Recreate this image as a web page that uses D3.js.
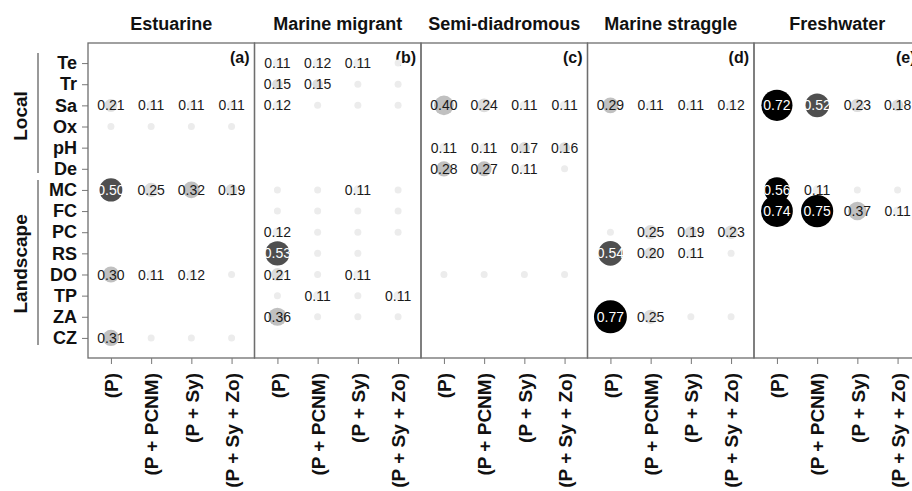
<!DOCTYPE html>
<html>
<head>
<meta charset="utf-8">
<script src="https://cdn.jsdelivr.net/npm/d3@7"></script>
<style>
  body { margin: 0; background: #fff; }
  svg { font-family: "Liberation Sans", Arial, sans-serif; }
  .axis text { font-weight: bold; fill: #111; }
  .axis line { stroke: #777; }
</style>
</head>
<body>
<div id="chart"></div>
<script>
// panels, columns and rows
var groups = ["Estuarine", "Marine migrant", "Semi-diadromous", "Marine straggle", "Freshwater"];
var panelTags = ["(a)", "(b)", "(c)", "(d)", "(e)"];
var models = ["(P)", "(P + PCNM)", "(P + Sy)", "(P + Sy + Zo)"];
var predictors = ["Te", "Tr", "Sa", "Ox", "pH", "De", "MC", "FC", "PC", "RS", "DO", "TP", "ZA", "CZ"];
var localVars = ["Te", "Tr", "Sa", "Ox", "pH", "De"];
var landscapeVars = ["MC", "FC", "PC", "RS", "DO", "TP", "ZA", "CZ"];

// values per panel, one row per predictor; null = nothing drawn, 0.05 = small unlabelled dot
var estuarine = [
  [null, null, null, null],
  [null, null, null, null],
  [0.21, 0.11, 0.11, 0.11],
  [0.05, 0.05, 0.05, 0.05],
  [null, null, null, null],
  [null, null, null, null],
  [0.50, 0.25, 0.32, 0.19],
  [null, null, null, null],
  [null, null, null, null],
  [null, null, null, null],
  [0.30, 0.11, 0.12, 0.05],
  [null, null, null, null],
  [null, null, null, null],
  [0.31, 0.05, 0.05, 0.05]
];
var marineMigrant = [
  [0.11, 0.12, 0.11, 0.05],
  [0.15, 0.15, 0.05, 0.05],
  [0.12, 0.05, 0.05, 0.05],
  [null, null, null, null],
  [null, null, null, null],
  [null, null, null, null],
  [0.05, 0.05, 0.11, 0.05],
  [0.05, 0.05, 0.05, 0.05],
  [0.12, 0.05, 0.05, 0.05],
  [0.53, 0.05, 0.05, null],
  [0.21, 0.05, 0.11, null],
  [0.05, 0.11, 0.05, 0.11],
  [0.36, 0.05, 0.05, 0.05],
  [null, null, null, null]
];
var semiDiadromous = [
  [null, null, null, null],
  [null, null, null, null],
  [0.40, 0.24, 0.11, 0.11],
  [null, null, null, null],
  [0.11, 0.11, 0.17, 0.16],
  [0.28, 0.27, 0.11, 0.05],
  [null, null, null, null],
  [null, null, null, null],
  [null, null, null, null],
  [null, null, null, null],
  [0.05, 0.05, 0.05, 0.05],
  [null, null, null, null],
  [null, null, null, null],
  [null, null, null, null]
];
var marineStraggle = [
  [null, null, null, null],
  [null, null, null, null],
  [0.29, 0.11, 0.11, 0.12],
  [null, null, null, null],
  [null, null, null, null],
  [null, null, null, null],
  [null, null, null, null],
  [null, null, null, null],
  [0.05, 0.25, 0.19, 0.23],
  [0.54, 0.20, 0.11, 0.05],
  [null, null, null, null],
  [null, null, null, null],
  [0.77, 0.25, 0.05, 0.05],
  [null, null, null, null]
];
var freshwater = [
  [null, null, null, null],
  [null, null, null, null],
  [0.72, 0.52, 0.23, 0.18],
  [null, null, null, null],
  [null, null, null, null],
  [null, null, null, null],
  [0.56, 0.11, 0.05, 0.05],
  [0.74, 0.75, 0.37, 0.11],
  [null, null, null, null],
  [null, null, null, null],
  [null, null, null, null],
  [null, null, null, null],
  [null, null, null, null],
  [null, null, null, null]
];
var panelValues = [estuarine, marineMigrant, semiDiadromous, marineStraggle, freshwater];

var width = 912;
var height = 491;
var plotTop = 43, plotBottom = 358, plotLeft = 88, panelW = 166.5;

var svg = d3.select("#chart").append("svg")
  .attr("width", width)
  .attr("height", height);

/* Scales */
var panelScale = d3.scaleBand()
  .domain(groups)
  .range([plotLeft, plotLeft + panelW * groups.length]);

var xScale = d3.scalePoint()
  .domain(models)
  .range([0, panelScale.bandwidth()])
  .padding(0.57);

var yScale = d3.scalePoint()
  .domain(predictors)
  .range([plotTop, plotBottom])
  .padding(0.95);

var rScale = d3.scaleLinear().domain([0, 0.8]).range([2.6, 17]);

var fill = d3.scaleThreshold()
  .domain([0.1, 0.14, 0.26, 0.45, 0.555])
  .range(["#ececec", "#eeeeee", "#dcdcdc", "#c0c0c0", "#4f4f4f", "#000000"]);

/* Y axis with row labels */
var yAxis = d3.axisLeft(yScale).tickSize(6).tickPadding(5);
svg.append("g")
  .attr("class", "y axis")
  .attr("transform", `translate(${plotLeft}, 0)`)
  .call(yAxis)
  .call(g => g.select(".domain").remove())
  .selectAll("text")
  .style("font-size", "18px");

/* Group brackets */
var brackets = [
  { name: "Local", vars: localVars, y0: 53, y1: 173 },
  { name: "Landscape", vars: landscapeVars, y0: 180, y1: 345 }
];
brackets.forEach(function (b) {
  svg.append("line")
    .attr("x1", 38).attr("x2", 38)
    .attr("y1", b.y0).attr("y2", b.y1)
    .style("stroke", "#777")
    .style("stroke-width", 1.5);
  var cy = (yScale(b.vars[0]) + yScale(b.vars[b.vars.length - 1])) / 2;
  svg.append("text")
    .attr("transform", `translate(20, ${cy}) rotate(-90)`)
    .attr("text-anchor", "middle")
    .attr("dy", "0.35em")
    .style("font-size", "19px")
    .style("font-weight", "bold")
    .style("fill", "#111")
    .text(b.name);
});

/* Panels */
groups.forEach(function (name, gi) {
  var x0 = panelScale(name);
  var g = svg.append("g").attr("transform", `translate(${x0}, 0)`);

  g.append("text")
    .attr("x", panelScale.bandwidth() / 2)
    .attr("y", 30)
    .attr("text-anchor", "middle")
    .style("font-size", "18px")
    .style("font-weight", "bold")
    .style("fill", "#111")
    .text(name);

  g.append("rect")
    .attr("x", 0).attr("y", plotTop)
    .attr("width", panelScale.bandwidth())
    .attr("height", plotBottom - plotTop)
    .style("fill", "none")
    .style("stroke", "#6e6e6e")
    .style("stroke-width", 1.3);

  g.append("text")
    .attr("x", panelScale.bandwidth() - 5)
    .attr("y", 63)
    .attr("text-anchor", "end")
    .style("font-size", "16px")
    .style("font-weight", "bold")
    .style("fill", "#111")
    .text(panelTags[gi]);

  var cells = [];
  panelValues[gi].forEach(function (row, ri) {
    row.forEach(function (v, ci) {
      if (v !== null) cells.push({ row: predictors[ri], model: models[ci], value: v });
    });
  });

  var cell = g.selectAll(".cell")
    .data(cells).enter()
    .append("g")
    .attr("class", "cell");

  cell.append("circle")
    .attr("cx", d => xScale(d.model))
    .attr("cy", d => yScale(d.row))
    .attr("r", d => rScale(d.value))
    .style("fill", d => fill(d.value));

  cell.filter(d => d.value >= 0.1)
    .append("text")
    .attr("x", d => xScale(d.model))
    .attr("y", d => yScale(d.row))
    .attr("dy", "0.36em")
    .attr("text-anchor", "middle")
    .style("font-size", "14px")
    .style("fill", d => d.value >= 0.45 ? "#fff" : "#1a1a1a")
    .text(d => d.value.toFixed(2));

  var xAxis = d3.axisBottom(xScale).tickSize(6);
  g.append("g")
    .attr("class", "x axis")
    .attr("transform", `translate(0, ${plotBottom})`)
    .call(xAxis)
    .call(a => a.select(".domain").remove())
    .selectAll("text")
    .attr("transform", "rotate(-90)")
    .attr("text-anchor", "end")
    .attr("x", -15)
    .attr("y", 0)
    .attr("dy", "0.35em")
    .style("font-size", "19px");
});
</script>
</body>
</html>
